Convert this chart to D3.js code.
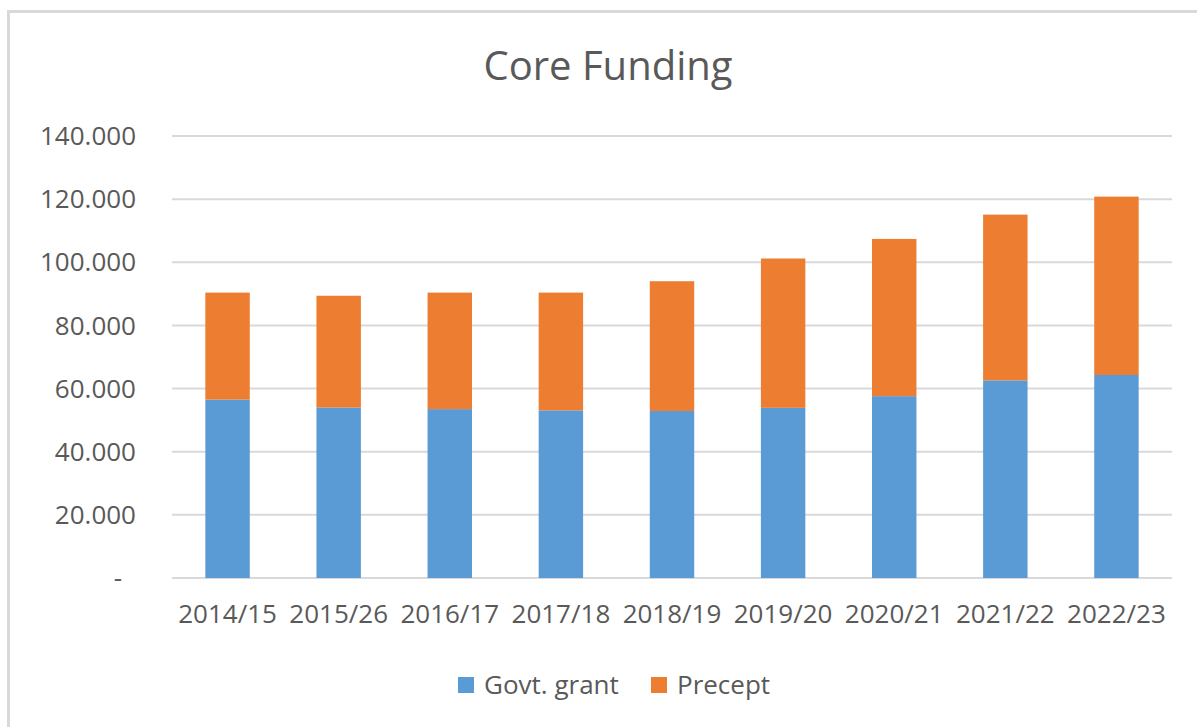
<!DOCTYPE html>
<html>
<head>
<meta charset="utf-8">
<script src="https://cdn.jsdelivr.net/npm/d3@7"></script>
<style>
  html, body { margin: 0; padding: 0; background: #fff; }
  svg { display: block; font-family: "Open Sans", Lato, sans-serif; }
</style>
</head>
<body>
<div id="chart"></div>
<script>
// values (thousands)
const years = ["2014/15", "2015/26", "2016/17", "2017/18", "2018/19", "2019/20", "2020/21", "2021/22", "2022/23"];
const govtGrant = [56.5, 54.0, 53.5, 53.1, 52.9, 53.9, 57.6, 62.6, 64.3];
const precept = [33.9, 35.4, 36.9, 37.3, 41.1, 47.3, 49.8, 52.5, 56.5];
const yTicks = [0, 20, 40, 60, 80, 100, 120, 140];
const seriesNames = ["Govt. grant", "Precept"];
const seriesColors = ["#5B9BD5", "#ED7D31"];

const W = 1197, H = 727;
const m = { left: 172, right: 25, top: 136, bottom: 149 };
const txt = "#595959";

const svg = d3.select("#chart").append("svg").attr("width", W).attr("height", H);

// outer chart frame (only left and top edges show in the shot)
svg.append("path")
  .attr("d", `M8.5,${H} V11.5 H${W}`)
  .attr("fill", "none").attr("stroke", "#D9D9D9").attr("stroke-width", 3);

const x = d3.scaleBand().domain(years).range([m.left, W - m.right]).paddingInner(0.6).paddingOuter(0.3);
const y = d3.scaleLinear().domain([0, 140]).range([H - m.bottom, m.top]);

// title
svg.append("text").attr("x", 608).attr("y", 80).attr("text-anchor", "middle")
  .attr("fill", txt).style("font-size", "40px").text("Core Funding");

// gridlines
svg.append("g").selectAll("line").data(yTicks).enter().append("line")
  .attr("x1", m.left).attr("x2", W - m.right)
  .attr("y1", d => y(d)).attr("y2", d => y(d))
  .attr("stroke", "#D9D9D9").attr("stroke-width", 2);

// y labels
svg.append("g").selectAll("text").data(yTicks).enter().append("text")
  .attr("x", d => d === 0 ? 122 : 136)
  .attr("y", d => y(d)).attr("dy", "0.35em").attr("text-anchor", "end")
  .attr("fill", txt).style("font-size", "26px")
  .text(d => d === 0 ? "-" : d + ".000");

// stacked bars
const rows = years.map((yr, i) => ({ year: yr, "Govt. grant": govtGrant[i], "Precept": precept[i] }));
const stack = d3.stack().keys(seriesNames)(rows);

svg.append("g").selectAll("g").data(stack).enter().append("g")
  .attr("fill", (d, i) => seriesColors[i])
  .selectAll("rect").data(d => d).enter().append("rect")
  .attr("x", d => x(d.data.year))
  .attr("width", x.bandwidth())
  .attr("y", d => y(d[1]))
  .attr("height", d => y(d[0]) - y(d[1]));

// x labels
svg.append("g").selectAll("text").data(years).enter().append("text")
  .attr("x", d => x(d) + x.bandwidth() / 2).attr("y", 614).attr("dy", "0.35em")
  .attr("text-anchor", "middle").attr("fill", txt).style("font-size", "26px")
  .text(d => d);

// legend
const legendX = [458, 651];
const lg = svg.append("g").selectAll("g").data(seriesNames).enter().append("g")
  .attr("transform", (d, i) => `translate(${legendX[i]},677)`);
lg.append("rect").attr("width", 16).attr("height", 16).attr("fill", (d, i) => seriesColors[i]);
lg.append("text").attr("x", 26).attr("y", 8).attr("dy", "0.35em")
  .attr("fill", txt).style("font-size", "26px").text(d => d);
</script>
</body>
</html>
